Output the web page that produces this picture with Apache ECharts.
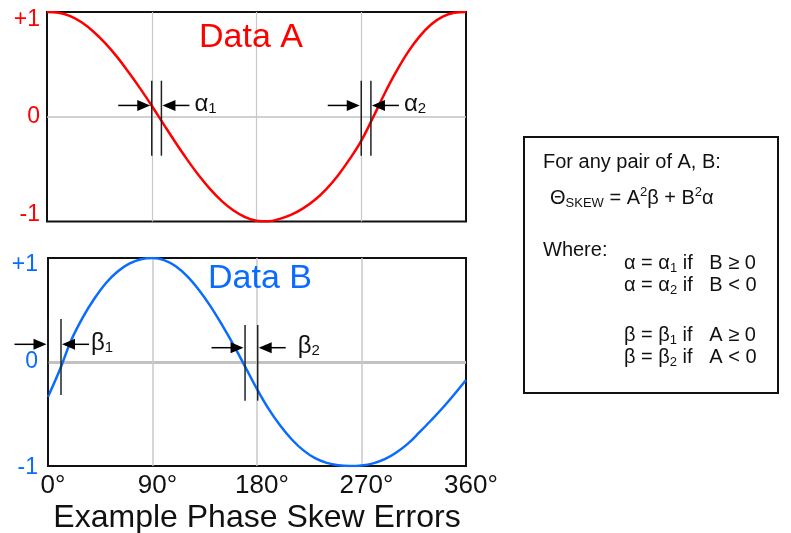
<!DOCTYPE html>
<html>
<head>
<meta charset="utf-8">
<title>Example Phase Skew Errors</title>
<script src="https://cdn.jsdelivr.net/npm/echarts@6/dist/echarts.min.js"></script>
<style>
  html, body { margin: 0; padding: 0; background: #ffffff; }
  #chart { width: 791px; height: 533px; }
</style>
</head>
<body>
<div id="chart"></div>
<script>
// Phase samples (degrees) shared by both traces
const phaseDeg = [0, 10, 20, 30, 40, 50, 60, 70, 80, 90, 100, 110, 120, 130, 140, 150, 160, 170, 180,
                  190, 200, 210, 220, 230, 240, 250, 260, 270, 280, 290, 300, 310, 320, 330, 340, 350, 360];

// Data A (upper trace)
const dataA = [1.000, 0.993, 0.960, 0.899, 0.812, 0.703, 0.574, 0.427, 0.271, 0.105,
               -0.068, -0.239, -0.402, -0.553, -0.688, -0.803, -0.893, -0.957, -0.993,
               -0.998, -0.975, -0.935, -0.875, -0.795, -0.690, -0.560, -0.405, -0.230,
               -0.010, 0.220, 0.430, 0.615, 0.765, 0.880, 0.955, 0.992, 1.000];

// Data B (lower trace)
const dataB = [-0.334, -0.080, 0.210, 0.430, 0.610, 0.760, 0.870, 0.945, 0.988, 1.000,
               0.980, 0.920, 0.823, 0.692, 0.535, 0.355, 0.160, -0.050, -0.260,
               -0.450, -0.610, -0.745, -0.850, -0.925, -0.970, -0.993, -1.000, -0.995,
               -0.975, -0.935, -0.870, -0.785, -0.675, -0.560, -0.440, -0.310, -0.173];

const phaseTicks = ['0°', '90°', '180°', '270°', '360°'];
const levelTicks = ['-1', '0', '+1'];

// Skew markers: phase edges (deg), vertical extent and arrow level (amplitude units)
const alphaMarks = [
  { sub: '1', edges: [90, 98.3], span: [0.344, -0.372], level: 0.108 },
  { sub: '2', edges: [270, 278.3], span: [0.344, -0.372], level: 0.108 }
];
const betaMarks = [
  { sub: '1', edges: [0, 11.2], span: [0.413, -0.317], level: 0.170 },
  { sub: '2', edges: [169.7, 180.6], span: [0.356, -0.372], level: 0.1375 }
];

const FONT = '"Liberation Sans", Arial, Helvetica, sans-serif';
const RED = '#ff0000';
const BLUE = '#0a6cff';
const INK = '#111111';

const chart = echarts.init(document.getElementById('chart'), null, { renderer: 'canvas' });

function pairs(values) {
  return phaseDeg.map((p, i) => [p, values[i]]);
}

function levelAxis(gridIndex, color, pads, zeroWidth, margin) {
  return {
    gridIndex: gridIndex,
    type: 'value',
    min: -1,
    max: 1,
    interval: 1,
    axisLine: { show: false },
    axisTick: { show: false },
    splitLine: {
      show: true, showMinLine: false, showMaxLine: false,
      lineStyle: { color: '#c2c2c2', width: zeroWidth }
    },
    axisLabel: {
      show: true,
      showMinLabel: true,
      showMaxLabel: true,
      margin: margin,
      formatter: function (v) {
        const key = v > 0 ? 'hi' : (v < 0 ? 'lo' : 'mid');
        return '{' + key + '|' + levelTicks[Math.round(v) + 1] + '}';
      },
      rich: {
        hi: { fontSize: 23, color: color, fontFamily: FONT, padding: pads.hi },
        mid: { fontSize: 23, color: color, fontFamily: FONT },
        lo: { fontSize: 23, color: color, fontFamily: FONT, padding: pads.lo }
      }
    }
  };
}

// Arrow pointing along the phase axis: line plus filled head
function arrow(xTail, xTip, y) {
  const dir = xTip > xTail ? 1 : -1;
  const headLen = 13, headHalf = 5.5;
  return [
    { type: 'line', shape: { x1: xTail, y1: y, x2: xTip - dir * headLen * 0.5, y2: y },
      style: { stroke: '#000', lineWidth: 1.5 } },
    { type: 'polygon', shape: { points: [[xTip, y], [xTip - dir * headLen, y - headHalf], [xTip - dir * headLen, y + headHalf]] },
      style: { fill: '#000' } }
  ];
}

function markerSeries(gridIndex, marks, glyph, labelGaps) {
  return {
    type: 'custom',
    xAxisIndex: gridIndex,
    yAxisIndex: gridIndex,
    clip: false,
    silent: true,
    z: 4,
    data: marks.map(m => [m.edges[0], m.edges[1], m.span[0], m.span[1], m.level]),
    renderItem: function (params, api) {
      const i = params.dataIndex;
      const x0 = api.value(0), x1 = api.value(1);
      const top = api.value(2), bot = api.value(3), lvl = api.value(4);
      const pL = api.coord([x0, lvl]);
      const pR = api.coord([x1, lvl]);
      const yTop = api.coord([x0, top])[1];
      const yBot = api.coord([x0, bot])[1];
      const y = pL[1];
      const edgeStyle = { stroke: '#222', lineWidth: 1.5 };
      const children = [
        { type: 'line', shape: { x1: pL[0], y1: yTop, x2: pL[0], y2: yBot }, style: edgeStyle },
        { type: 'line', shape: { x1: pR[0], y1: yTop, x2: pR[0], y2: yBot }, style: edgeStyle }
      ]
        .concat(arrow(pL[0] - 33.5, pL[0] - 1.5, y))
        .concat(arrow(pR[0] + 28, pR[0] + 1, y));
      children.push({
        type: 'text',
        x: pR[0] + labelGaps[i],
        y: y - 1,
        style: {
          text: '{g|' + glyph + '}{s|' + marks[i].sub + '}',
          align: 'left', verticalAlign: 'middle',
          textAlign: 'left', textVerticalAlign: 'middle',
          rich: {
            g: { fontSize: 24, lineHeight: 24, fontFamily: FONT, fill: INK },
            s: { fontSize: 15, lineHeight: 12, fontFamily: FONT, fill: INK, verticalAlign: 'bottom' }
          }
        }
      });
      return { type: 'group', children: children };
    }
  };
}

const boxRich = {
  t: { fontSize: 20, lineHeight: 24, fontFamily: FONT, fill: INK },
  sub: { fontSize: 13, lineHeight: 11, fontFamily: FONT, fill: INK, verticalAlign: 'bottom' },
  sup: { fontSize: 13, lineHeight: 12, fontFamily: FONT, fill: INK, verticalAlign: 'top' }
};

function boxLine(x, y, text) {
  return {
    type: 'text', x: x, y: y, z: 10,
    style: {
      text: text, rich: boxRich,
      align: 'left', verticalAlign: 'middle',
      textAlign: 'left', textVerticalAlign: 'middle'
    }
  };
}

function heading(x, y, text, color) {
  return {
    type: 'text', x: x, y: y, z: 10,
    style: {
      text: text, fill: color, fontSize: 34, fontFamily: FONT,
      align: 'center', verticalAlign: 'middle',
      textAlign: 'center', textVerticalAlign: 'middle'
    }
  };
}

const option = {
  animation: false,
  backgroundColor: '#ffffff',
  textStyle: { fontFamily: FONT },
  grid: [
    { left: 47, top: 12, width: 419, height: 209.5, show: true, borderColor: '#111', borderWidth: 2,
      backgroundColor: 'transparent', containLabel: false, outerBoundsMode: 'none' },
    { left: 48, top: 258, width: 418, height: 208, show: true, borderColor: '#111', borderWidth: 2,
      backgroundColor: 'transparent', containLabel: false, outerBoundsMode: 'none' }
  ],
  xAxis: [
    {
      gridIndex: 0, type: 'value', min: 0, max: 360, interval: 90,
      axisLine: { show: false }, axisTick: { show: false }, axisLabel: { show: false },
      splitLine: { show: true, showMinLine: false, showMaxLine: false, lineStyle: { color: '#c8c8c8', width: 1.2 } }
    },
    {
      gridIndex: 1, type: 'value', min: 0, max: 360, interval: 90,
      axisLine: { show: false }, axisTick: { show: false },
      splitLine: { show: true, showMinLine: false, showMaxLine: false, lineStyle: { color: '#c8c8c8', width: 1.5 } },
      axisLabel: {
        show: true, showMinLabel: true, showMaxLabel: true, margin: 7,
        formatter: function (v) { return '{d|' + phaseTicks[Math.round(v / 90)] + '}'; },
        rich: { d: { fontSize: 26, color: INK, fontFamily: FONT, padding: [0, 0, 0, 10] } }
      },
      name: 'Example Phase Skew Errors',
      nameLocation: 'middle',
      nameGap: 36,
      nameTextStyle: { fontSize: 32, color: INK, fontFamily: FONT }
    }
  ],
  yAxis: [
    levelAxis(0, RED, { hi: [15, 0, 0, 0], lo: [0, 0, 13, 0] }, 1.5, 7),
    levelAxis(1, BLUE, { hi: [14, 0, 0, 0], lo: [4, 0, 0, 0] }, 3, 10)
  ],
  series: [
    {
      name: 'Data A', type: 'line', xAxisIndex: 0, yAxisIndex: 0,
      data: pairs(dataA), smooth: 0.4, showSymbol: false, z: 3,
      lineStyle: { color: RED, width: 2.5 }
    },
    {
      name: 'Data B', type: 'line', xAxisIndex: 1, yAxisIndex: 1,
      data: pairs(dataB), smooth: 0.4, showSymbol: false, z: 3,
      lineStyle: { color: BLUE, width: 2.5 }
    },
    markerSeries(0, alphaMarks, 'α', [33, 33]),
    markerSeries(1, betaMarks, 'β', [30, 40])
  ],
  graphic: [
    heading(251, 38, 'Data A', RED),
    heading(260, 279, 'Data B', BLUE),
    {
      type: 'rect', z: 9,
      shape: { x: 524, y: 137, width: 254, height: 256 },
      style: { fill: '#ffffff', stroke: '#111', lineWidth: 2 }
    },
    boxLine(543, 162, '{t|For any pair of A, B:}'),
    boxLine(550, 198, '{t|Θ}{sub|SKEW}{t| = A}{sup|2}{t|β + B}{sup|2}{t|α}'),
    boxLine(543, 250, '{t|Where:}'),
    boxLine(624, 263, '{t|α = α}{sub|1}{t| if   B ≥ 0}'),
    boxLine(624, 285, '{t|α = α}{sub|2}{t| if   B < 0}'),
    boxLine(624, 335, '{t|β = β}{sub|1}{t| if   A ≥ 0}'),
    boxLine(624, 357, '{t|β = β}{sub|2}{t| if   A < 0}')
  ]
};

chart.setOption(option);
</script>
</body>
</html>
